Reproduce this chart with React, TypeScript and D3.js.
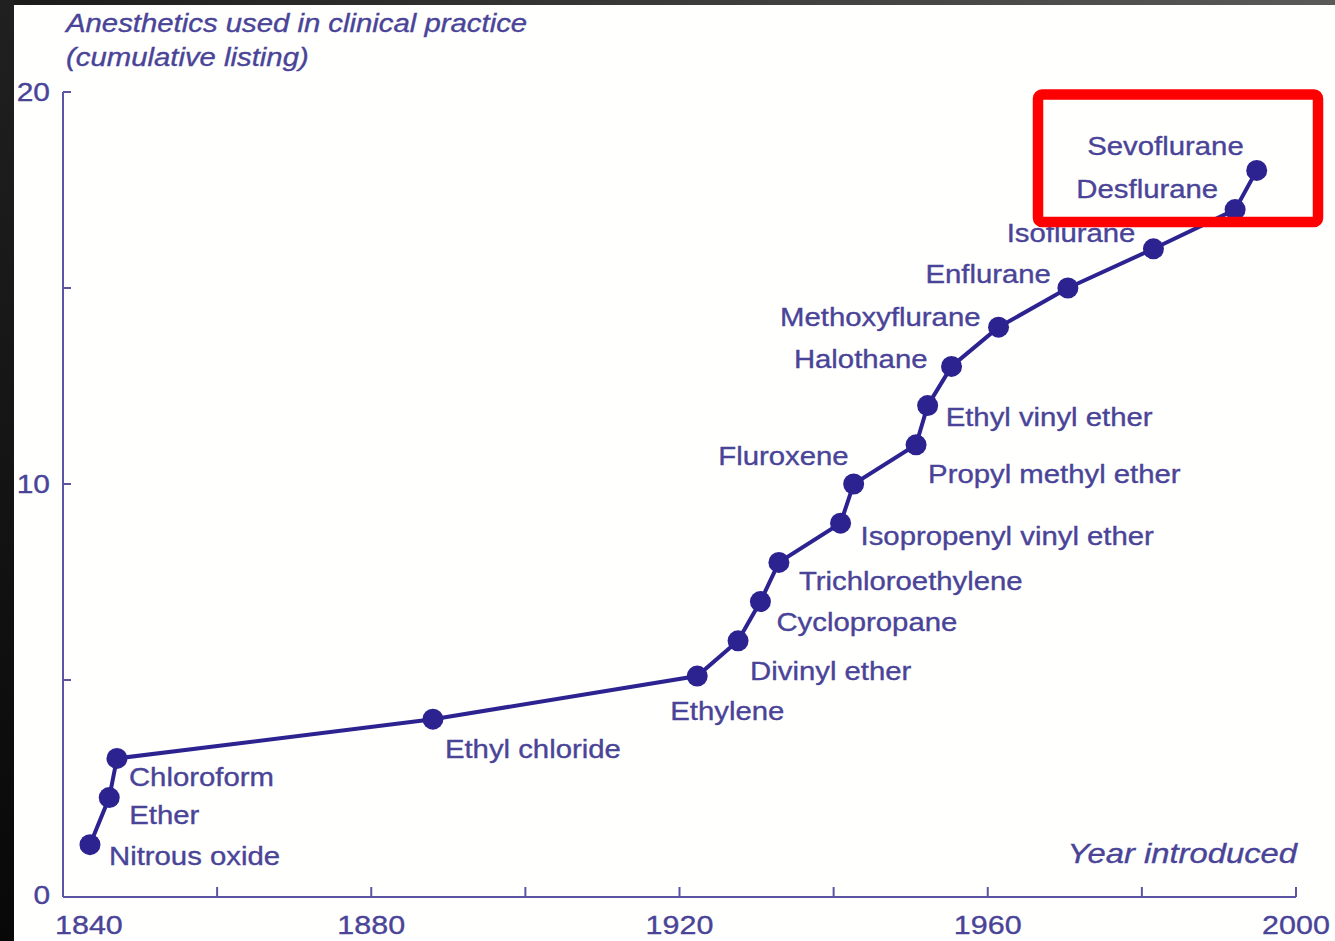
import * as d3 from "d3";

// Cumulative listing of anesthetics by year introduced
const AGENTS = [
  "Nitrous oxide",
  "Ether",
  "Chloroform",
  "Ethyl chloride",
  "Ethylene",
  "Divinyl ether",
  "Cyclopropane",
  "Trichloroethylene",
  "Isopropenyl vinyl ether",
  "Fluroxene",
  "Propyl methyl ether",
  "Ethyl vinyl ether",
  "Halothane",
  "Methoxyflurane",
  "Enflurane",
  "Isoflurane",
  "Desflurane",
  "Sevoflurane",
];
const YEARS = [
  1843.5, 1846, 1847, 1888, 1922.3, 1927.6, 1930.5, 1932.9, 1940.9, 1942.6,
  1950.7, 1952.2, 1955.3, 1961.4, 1970.4, 1981.5, 1992.1, 1994.9,
];
const COUNTS = [0.8, 2, 3, 4, 5.1, 6, 7, 8, 9, 10, 11, 12, 13, 14, 15, 16, 17, 18];

const X_TICKS = [1840, 1860, 1880, 1900, 1920, 1940, 1960, 1980, 2000];
const X_TICK_LABELS = [1840, 1880, 1920, 1960, 2000];
const Y_TICKS = [5, 10, 15, 20];
const Y_TICK_LABELS = [10, 20];

// label placement relative to each dot: [dx, dy, anchor]
const LABEL_POS: [number, number, string][] = [
  [19, 12, "start"],
  [20, 18, "start"],
  [12, 19, "start"],
  [12, 30, "start"],
  [-27, 35, "start"],
  [12, 30, "start"],
  [16, 21, "start"],
  [20, 19, "start"],
  [20, 13, "start"],
  [-5, -28, "end"],
  [12, 29, "start"],
  [18, 12, "start"],
  [-24, -7, "end"],
  [-18, -10, "end"],
  [-17, -14, "end"],
  [-18, -16, "end"],
  [-17, -20, "end"],
  [-13, -24, "end"],
];

const W = 1335;
const H = 941;
const INK = "#2c2391";
const TEXT = "#4a4498";
const AXIS = "#5b55a3";
const FONT = "'Liberation Sans', Arial, Helvetica, sans-serif";
const SX = 1.15; // the source lettering is stretched horizontally

export default function App() {
  const x = d3.scaleLinear().domain([1840, 2000]).range([63, 1296]);
  const y = d3.scaleLinear().domain([0, 20]).range([876, 92]);
  const baseY = 897; // x axis sits slightly below zero in the original
  const x0 = x(1840);

  const pts = YEARS.map((yr, i) => ({ yr, v: COUNTS[i], name: AGENTS[i] }));
  const line = d3
    .line<{ yr: number; v: number }>()
    .x((d) => x(d.yr))
    .y((d) => y(d.v));

  const label = (tx: number, ty: number, txt: string, opts: any = {}) => (
    <text
      transform={`translate(${tx},${ty}) scale(${SX},1)`}
      fontFamily={FONT}
      fontSize={opts.size ?? 25.5}
      fontStyle={opts.italic ? "italic" : "normal"}
      textAnchor={opts.anchor ?? "start"}
      dominantBaseline={opts.baseline ?? "central"}
      fill={TEXT}
      stroke={TEXT}
      strokeWidth={0.35}
    >
      {txt}
    </text>
  );

  return (
    <svg
      width={W}
      height={H}
      style={{ position: "absolute", left: 0, top: 0, background: "#fffffd" }}
    >
      <defs>
        <linearGradient id="topband" x1="0" x2="1" y1="0" y2="0">
          <stop offset="0" stopColor="#1b1b1b" />
          <stop offset="1" stopColor="#5a5a5a" />
        </linearGradient>
        <linearGradient id="leftband" x1="0" x2="0" y1="0" y2="1">
          <stop offset="0" stopColor="#202020" />
          <stop offset="1" stopColor="#080808" />
        </linearGradient>
      </defs>
      <rect x={0} y={0} width={W} height={H} fill="#fffffd" />
      <rect x={0} y={0} width={W} height={5} fill="url(#topband)" />
      <rect x={0} y={0} width={14} height={H} fill="url(#leftband)" />

      {/* title */}
      {label(66, 32, "Anesthetics used in clinical practice", {
        italic: true,
        size: 25.5,
        baseline: "auto",
      })}
      {label(66, 66, "(cumulative listing)", {
        italic: true,
        size: 25.5,
        baseline: "auto",
      })}

      {/* axes */}
      <g stroke={AXIS} strokeWidth={2} fill="none">
        <line x1={x0} x2={x0} y1={y(20)} y2={baseY} />
        <line x1={x0} x2={x(2000)} y1={baseY} y2={baseY} />
        {Y_TICKS.map((t) => (
          <line key={t} x1={x0} x2={x0 + 8} y1={y(t)} y2={y(t)} />
        ))}
        {X_TICKS.filter((t) => t > 1840).map((t) => (
          <line key={t} x1={x(t)} x2={x(t)} y1={baseY} y2={baseY - 10} />
        ))}
      </g>
      {Y_TICK_LABELS.map((t) => (
        <g key={t}>{label(50, y(t), String(t), { anchor: "end", size: 26 })}</g>
      ))}
      {label(50, baseY - 2, "0", { anchor: "end", size: 26 })}
      {X_TICK_LABELS.map((t) => (
        <g key={t}>
          {label(t === 1840 ? x(t) - 8 : x(t), 934, String(t), {
            anchor: t === 1840 ? "start" : "middle",
            size: 26.5,
            baseline: "auto",
          })}
        </g>
      ))}
      {label(1297, 863, "Year introduced", {
        anchor: "end",
        italic: true,
        size: 28.5,
        baseline: "auto",
      })}

      {/* series */}
      <path d={line(pts) ?? ""} fill="none" stroke={INK} strokeWidth={4} />
      {pts.map((d) => (
        <circle key={d.name} cx={x(d.yr)} cy={y(d.v)} r={10.5} fill={INK} />
      ))}
      {pts.map((d, i) => {
        const [dx, dy, anchor] = LABEL_POS[i];
        return (
          <g key={d.name}>
            {label(x(d.yr) + dx, y(d.v) + dy, d.name, { anchor })}
          </g>
        );
      })}

      {/* highlight box */}
      <rect
        x={1038}
        y={94.5}
        width={280}
        height={127.5}
        rx={4}
        fill="none"
        stroke="#ff0000"
        strokeWidth={10.5}
      />
    </svg>
  );
}
